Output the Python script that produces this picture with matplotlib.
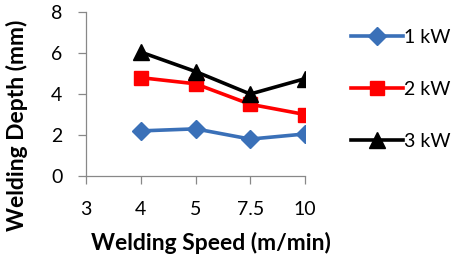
import numpy as np
import matplotlib
matplotlib.use("Agg")
import matplotlib.pyplot as plt

# ----- dados -----
velocidades = ["3", "4", "5", "7.5", "10"]
serie_1kw = [2.2, 2.3, 1.8, 2.05]
serie_2kw = [4.8, 4.5, 3.5, 3.0]
serie_3kw = [6.05, 5.1, 4.0, 4.75]
rotulos = ["1 kW", "2 kW", "3 kW"]

plt.rcParams["font.family"] = ["Lato", "DejaVu Sans"]

fig = plt.figure(figsize=(4.6, 2.58), dpi=100)
ax = fig.add_axes([0.187, 0.318, 0.476, 0.635])

x = np.arange(1, len(velocidades))
ax.plot(x, serie_1kw, color="#3A70B8", lw=2.6, marker="D", ms=9, label=rotulos[0])
ax.plot(x, serie_2kw, color="#FF0000", lw=2.6, marker="s", ms=10, label=rotulos[1])
ax.plot(x, serie_3kw, color="#000000", lw=2.6, marker="^", ms=11, label=rotulos[2])

ax.set_xlim(0, len(velocidades) - 1)
ax.set_ylim(0, 8)
ax.set_xticks(np.arange(len(velocidades)))
ax.set_xticklabels(velocidades)
ax.set_yticks([0, 2, 4, 6, 8])

for s in ["top", "right"]:
    ax.spines[s].set_visible(False)
for s in ["left", "bottom"]:
    ax.spines[s].set_color("#888888")
    ax.spines[s].set_linewidth(0.9)
ax.tick_params(axis="both", colors="#888888", labelcolor="black", labelsize=14, length=6, width=0.9)
ax.tick_params(axis="x", pad=12)
ax.tick_params(axis="y", pad=11)

# rótulos dos eixos posicionados na figura (como no original)
fig.text(0.459, 0.058, "Welding Speed (m/min)", fontsize=16.5, fontweight="bold",
         ha="center", va="center")
fig.text(0.036, 0.516, "Welding Depth (mm)", fontsize=16.5, fontweight="bold",
         ha="center", va="center", rotation=90)

fig.legend(loc="upper left", bbox_to_anchor=(0.725, 0.955), frameon=False,
           fontsize=14, handlelength=2.7, labelspacing=1.8, handletextpad=0.05)

fig.savefig("out.png", dpi=100)
